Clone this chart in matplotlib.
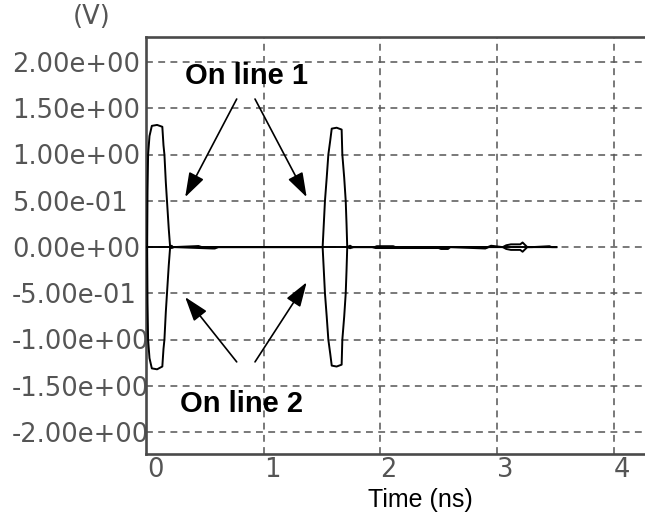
"""Crosstalk pulses seen on two coupled lines (scope-style plot)."""

import matplotlib

matplotlib.use("Agg")
import matplotlib.pyplot as plt
from matplotlib.transforms import blended_transform_factory

# --- data ------------------------------------------------------------------
# line 1: positive pulses at t=0 and t~1.6 ns, small ripple between
t_line1 = [0.0, 0.003, 0.008, 0.02, 0.04, 0.085, 0.13, 0.14, 0.148, 0.16,
           0.17, 0.185, 0.197, 0.21, 0.22, 0.41, 0.44, 0.47, 0.56, 0.61,
           1.0, 1.505, 1.515, 1.525, 1.54, 1.554, 1.57, 1.583, 1.625,
           1.668, 1.674, 1.69, 1.703, 1.71, 1.716, 1.74, 1.76, 1.95, 1.97,
           2.11, 2.13, 2.5, 2.62, 2.92, 2.95, 3.05, 3.08, 3.12, 3.2, 3.22,
           3.26, 3.3, 3.45, 3.47, 3.51]
v_line1 = [0.0, 0.6, 1.0, 1.2, 1.31, 1.32, 1.30, 1.1, 1.0, 0.7,
           0.5, 0.2, 0.0, 0.015, 0.0, 0.01, 0.012, 0.0, 0.0, 0.0,
           0.0, 0.0, 0.25, 0.5, 0.75, 1.0, 1.15, 1.28, 1.29,
           1.27, 1.0, 0.75, 0.5, 0.25, 0.0, 0.015, 0.0, 0.0, 0.01,
           0.01, 0.0, 0.0, 0.0, 0.0, 0.015, 0.0, 0.02, 0.03, 0.03, 0.05,
           0.0, 0.0, 0.01, 0.0, 0.0]

# line 2: the mirrored negative pulses
t_line2 = [0.0, 0.003, 0.008, 0.02, 0.04, 0.085, 0.13, 0.14, 0.148, 0.16,
           0.17, 0.185, 0.197, 0.21, 0.23, 0.56, 0.58, 0.61, 1.0,
           1.505, 1.515, 1.525, 1.54, 1.554, 1.57, 1.583, 1.625,
           1.668, 1.674, 1.69, 1.703, 1.71, 1.716, 1.74, 1.77, 1.93, 1.96,
           2.5, 2.52, 2.58, 2.6, 2.9, 2.93, 3.05, 3.08, 3.12, 3.2, 3.22,
           3.26, 3.3, 3.51]
v_line2 = [0.0, -0.6, -1.0, -1.2, -1.31, -1.32, -1.29, -1.1, -1.0, -0.7,
           -0.5, -0.2, 0.0, -0.01, 0.0, -0.015, -0.015, 0.0, 0.0,
           0.0, -0.25, -0.5, -0.75, -1.0, -1.15, -1.28, -1.29,
           -1.27, -1.0, -0.75, -0.5, -0.25, 0.0, -0.012, 0.0, 0.0, -0.01,
           -0.01, -0.02, -0.02, 0.0, -0.015, 0.0, 0.0, -0.02, -0.03, -0.03,
           -0.05, 0.0, 0.0, 0.0]

x_ticks = [0, 1, 2, 3, 4]
x_tick_labels = ["0", "1", "2", "3", "4"]
y_ticks = [2.0, 1.5, 1.0, 0.5, 0.0, -0.5, -1.0, -1.5, -2.0]
y_tick_labels = ["2.00e+00", "1.50e+00", "1.00e+00", "5.00e-01", "0.00e+00",
                 "-5.00e-01", "-1.00e+00", "-1.50e+00", "-2.00e+00"]

# (label, label position, [(arrow start, arrow tip), ...]) in data units
annotations = [
    ("On line 1", (0.85, 1.845),
     [((0.768, 1.60), (0.326, 0.54)), ((0.925, 1.60), (1.368, 0.54))]),
    ("On line 2", (0.805, -1.69),
     [((0.768, -1.24), (0.326, -0.54)), ((0.925, -1.24), (1.368, -0.38))]),
]

# --- figure -----------------------------------------------------------------
W, H = 645, 518
TICK_FONT = dict(family="DejaVu Sans", fontsize=18.5, color="#555555")

fig = plt.figure(figsize=(W / 100, H / 100), dpi=100)
ax = fig.add_axes([146 / W, 1 - 454 / H, (W - 146) / W, (454 - 37) / H])

ax.plot(t_line1, v_line1, color="black", linewidth=1.4, zorder=3)
ax.plot(t_line2, v_line2, color="black", linewidth=1.4, zorder=3)
ax.axhline(0.0, xmin=0, xmax=(3.51 + 0.01) / 4.28, color="black",
           linewidth=1.4, zorder=3)

ax.set_xlim(-0.01, 4.27)
ax.set_ylim(-2.235, 2.27)

grid_style = dict(color="#555555", linewidth=1.1, linestyle=(0, (4.5, 3.5)),
                  zorder=1)
for y in y_ticks:
    ax.axhline(y, **grid_style)
for x in x_ticks[1:]:
    ax.axvline(x, **grid_style)

for side in ("left", "bottom", "top"):
    ax.spines[side].set_linewidth(1.9)
    ax.spines[side].set_color("#4a4a4a")
ax.spines["right"].set_visible(False)

ax.set_yticks(y_ticks)
ax.set_yticklabels([])
ax.set_xticks(x_ticks)
ax.set_xticklabels(x_tick_labels, ha="left", **TICK_FONT)
ax.tick_params(axis="both", length=0)
ax.tick_params(axis="x", pad=2)

# y labels are left-aligned and slip under the axes frame, as in the scope shot
label_tf = blended_transform_factory(fig.transFigure, ax.transData)
for y, label in zip(y_ticks, y_tick_labels):
    fig.text(12 / W, y - 0.03, label, transform=label_tf, ha="left",
             va="center", zorder=-1, **TICK_FONT)

fig.text(92 / W, 1 - 17 / H, "(V)", ha="center", va="center", **TICK_FONT)
fig.text(420 / W, 1 - 500 / H, "Time (ns)", ha="center", va="center",
         fontsize=18, family="Liberation Sans", color="black")

for text, pos, arrows in annotations:
    ax.text(pos[0], pos[1], text, ha="center", va="center", fontsize=21,
            fontweight="bold", family="Liberation Sans", zorder=5)
    for start, tip in arrows:
        ax.annotate("", xy=tip, xytext=start,
                    arrowprops=dict(arrowstyle="-|>,head_length=0.75,head_width=0.25",
                                    mutation_scale=20, color="black",
                                    linewidth=1.2, shrinkA=0, shrinkB=0),
                    zorder=5)

fig.savefig("out.png", dpi=100)
